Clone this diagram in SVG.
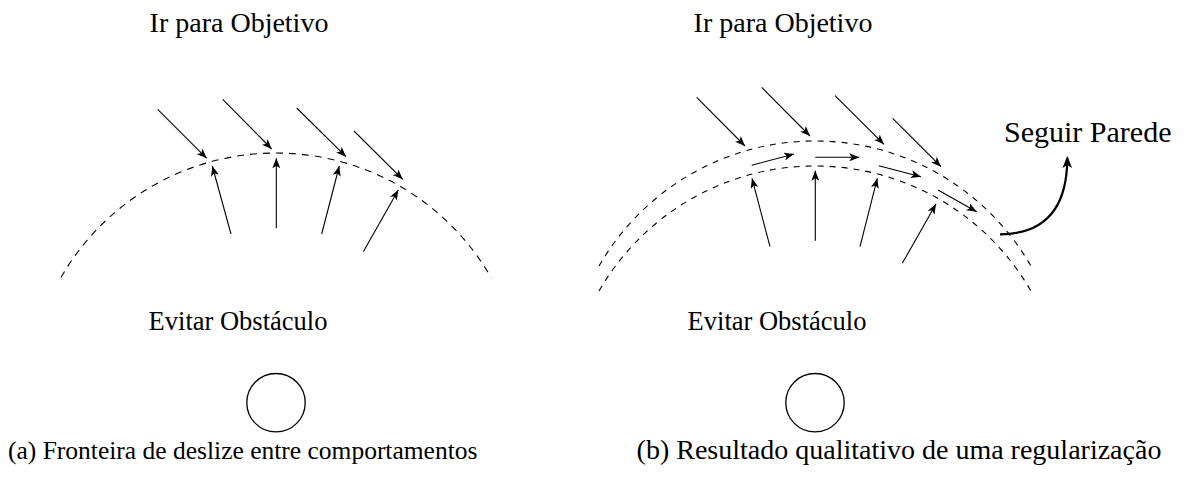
<svg xmlns="http://www.w3.org/2000/svg" width="1192" height="482" viewBox="0 0 1192 482">
<style>
text{fill:#000}
.lbl{text-anchor:middle}
.arr{stroke:#000;stroke-width:1.1;fill:none;marker-end:url(#ah)}
.dash{stroke:#000;stroke-width:1.1;fill:none;stroke-dasharray:7 6}
.obs{stroke:#000;stroke-width:1.3;fill:#fff}
</style>
<defs>
<marker id="ah" viewBox="0 0 10 8" refX="10" refY="4" markerWidth="10" markerHeight="8" markerUnits="userSpaceOnUse" orient="auto">
<path d="M0,0 L10,4 L0,8 L2.5,4 z" fill="#000"/>
</marker>
<marker id="ahb" viewBox="0 0 10 8" refX="8" refY="4" markerWidth="12" markerHeight="10" markerUnits="userSpaceOnUse" orient="auto">
<path d="M0,0 L10,4 L0,8 L2.5,4 z" fill="#000"/>
</marker>
</defs>

<g id="a-goal"><text class="lbl" font-family="'Liberation Serif'" font-size="28" x="239" y="32">Ir para Objetivo</text></g>
<g id="a-avoid"><text class="lbl" font-family="'Liberation Serif'" font-size="26.5" x="238" y="330">Evitar Obstáculo</text></g>
<g id="a-obstacle"><circle class="obs" cx="276" cy="402.7" r="29.2"/></g>
<g id="a-caption"><text font-family="'Liberation Serif'" font-size="25.5" x="8" y="459">(a) Fronteira de deslize entre comportamentos</text></g>

<g id="b-goal"><text class="lbl" font-family="'Liberation Serif'" font-size="28" x="783" y="32">Ir para Objetivo</text></g>
<g id="b-avoid"><text class="lbl" font-family="'Liberation Serif'" font-size="26.5" x="777" y="330">Evitar Obstáculo</text></g>
<g id="b-wall"><text font-family="'Liberation Serif'" font-size="30" x="1004" y="142">Seguir Parede</text></g>
<g id="b-obstacle"><circle class="obs" cx="815" cy="402.7" r="29.2"/></g>
<g id="b-caption"><text font-family="'Liberation Serif'" font-size="28" text-anchor="middle" x="899" y="459">(b) Resultado qualitativo de uma regularização</text></g>

<g id="connectors">
<path class="dash" d="M61,277.4 A248,248 0 0 1 491,277.4"/>
<line class="arr" x1="157.7" y1="109.3" x2="206.7" y2="158.3"/>
<line class="arr" x1="222.7" y1="99.3" x2="271.7" y2="149"/>
<line class="arr" x1="296.7" y1="108" x2="346" y2="156.7"/>
<line class="arr" x1="354" y1="131" x2="402.7" y2="179.3"/>
<line class="arr" x1="231" y1="234" x2="212.3" y2="166"/>
<line class="arr" x1="276.3" y1="228.3" x2="276.3" y2="158.3"/>
<line class="arr" x1="321.7" y1="234" x2="339.3" y2="166"/>
<line class="arr" x1="363.3" y1="251.7" x2="398.3" y2="190"/>

<path class="dash" style="stroke-dasharray:6 6" d="M599,266.1 A249,249 0 0 1 1031,266.1"/>
<path class="dash" style="stroke-dasharray:6 6" d="M599,291.1 A249,249 0 0 1 1031,291.1"/>
<line class="arr" x1="696.7" y1="97.3" x2="745" y2="146"/>
<line class="arr" x1="761.7" y1="87.3" x2="810" y2="136"/>
<line class="arr" x1="835" y1="95.7" x2="884" y2="144.3"/>
<line class="arr" x1="892.7" y1="118.3" x2="941" y2="166.7"/>
<line class="arr" x1="770" y1="246.7" x2="752" y2="178.3"/>
<line class="arr" x1="815.3" y1="240.7" x2="815.3" y2="170.7"/>
<line class="arr" x1="860" y1="246.7" x2="877.3" y2="178.3"/>
<line class="arr" x1="902.3" y1="263.3" x2="936" y2="204"/>
<line class="arr" x1="751.7" y1="165.3" x2="794" y2="154"/>
<line class="arr" x1="815.3" y1="157.3" x2="859.3" y2="157.3"/>
<line class="arr" x1="878.7" y1="165.7" x2="921" y2="176.7"/>
<line class="arr" x1="938" y1="190" x2="976.7" y2="211.7"/>
<path d="M1000,234.3 Q1067,234 1067.3,158.3" stroke="#000" stroke-width="2.2" fill="none" marker-end="url(#ahb)"/>
</g>
</svg>
